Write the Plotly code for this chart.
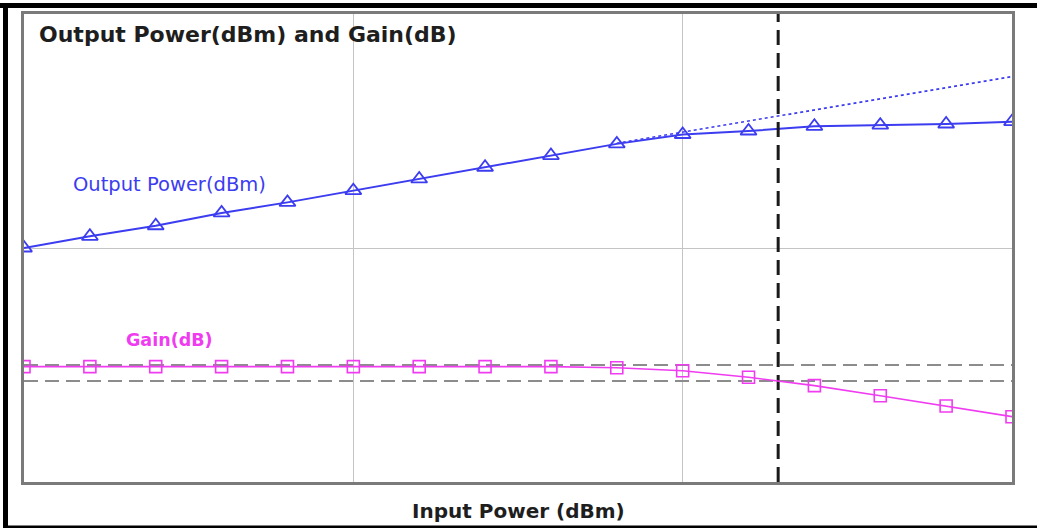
import plotly.graph_objects as go

# ---------------- data ----------------
input_power = [-10, -9, -8, -7, -6, -5, -4, -3, -2, -1, 0, 1, 2, 3, 4, 5]
output_power = [10.0, 11.0, 11.9, 13.0, 13.9, 14.9, 15.9, 16.9, 17.9, 18.9,
                19.7, 20.0, 20.4, 20.5, 20.6, 20.8]
gain = [19.9, 19.9, 19.9, 19.9, 19.9, 19.9, 19.9, 19.9, 19.9, 19.83,
        19.64, 19.23, 18.71, 18.08, 17.44, 16.77]
linear_input = [-1, 0, 1, 2, 3, 4, 5]
linear_output = [18.95, 19.9, 20.85, 21.8, 22.75, 23.7, 24.65]
gain_ref = 20.0
gain_1db = 19.0
p1db_input = 1.45

title_text = "Output Power(dBm) and Gain(dB)"
xaxis_text = "Input Power (dBm)"
out_label = "Output Power(dBm)"
gain_label = "Gain(dB)"

# ---------------- layout geometry ----------------
W, H = 1037, 529
PL, PR, PT, PB = 24, 1012, 14, 482


def px(x):
    return (x - PL) / (PR - PL)


def py(y):
    return (PB - y) / (PB - PT)


BLUE = "#3c3cf0"
MAG = "#f03cf0"
GRAY = "#8c8c8c"

fig = go.Figure()

# reference dashed lines on the gain axis
for g in (gain_ref, gain_1db):
    fig.add_trace(go.Scatter(
        x=[input_power[0], input_power[-1]], y=[g, g], yaxis="y2",
        mode="lines", line=dict(color=GRAY, width=2.2, dash="14px,7px"),
        hoverinfo="skip", showlegend=False))

# linear extrapolation (dotted)
fig.add_trace(go.Scatter(
    x=linear_input, y=linear_output, mode="lines",
    line=dict(color=BLUE, width=1.6, dash="dot"), showlegend=False))

# output power
fig.add_trace(go.Scatter(
    x=input_power, y=output_power, mode="lines+markers",
    line=dict(color=BLUE, width=2),
    marker=dict(symbol="triangle-up-open", size=14, color=BLUE,
                line=dict(width=1.8, color=BLUE)),
    showlegend=False))

# gain
fig.add_trace(go.Scatter(
    x=input_power, y=gain, yaxis="y2", mode="lines+markers",
    line=dict(color=MAG, width=1.6),
    marker=dict(symbol="square-open", size=12, color=MAG,
                line=dict(width=1.6, color=MAG)),
    showlegend=False))

# P1dB vertical dashed line
fig.add_trace(go.Scatter(
    x=[p1db_input, p1db_input], y=[-10, 30], mode="lines",
    line=dict(color="#1a1a1a", width=3, dash="15px,8px"),
    hoverinfo="skip", showlegend=False))

# outer black frame
shapes = [
    dict(type="rect", xref="paper", yref="paper",
         x0=px(0), x1=px(W), y0=py(8), y1=py(3),
         fillcolor="black", line=dict(width=0), layer="above"),
    dict(type="rect", xref="paper", yref="paper",
         x0=px(3), x1=px(8), y0=py(528), y1=py(3),
         fillcolor="black", line=dict(width=0), layer="above"),
    dict(type="rect", xref="paper", yref="paper",
         x0=px(3), x1=px(W), y0=py(528), y1=py(525.5),
         fillcolor="black", line=dict(width=0), layer="above"),
]

annotations = [
    dict(text=title_text, xref="paper", yref="paper", x=px(37), y=py(35),
         xanchor="left", yanchor="middle", showarrow=False,
         font=dict(family="DejaVu Sans", size=22, color="#1e1e1e", weight="bold")),
    dict(text=xaxis_text, xref="paper", yref="paper", x=px(518), y=py(511),
         xanchor="center", yanchor="middle", showarrow=False,
         font=dict(family="DejaVu Sans", size=20, color="#1e1e1e", weight="bold")),
    dict(text=out_label, xref="paper", yref="paper", x=px(71), y=py(184),
         xanchor="left", yanchor="middle", showarrow=False,
         font=dict(family="DejaVu Sans", size=19.5, color=BLUE)),
    dict(text=gain_label, xref="paper", yref="paper", x=px(124), y=py(340),
         xanchor="left", yanchor="middle", showarrow=False,
         font=dict(family="DejaVu Sans", size=17.5, color=MAG, weight="bold")),
]

fig.update_layout(
    width=W, height=H,
    margin=dict(l=PL, r=W - PR, t=PT, b=H - PB, pad=0),
    paper_bgcolor="white", plot_bgcolor="white",
    showlegend=False,
    shapes=shapes, annotations=annotations,
    xaxis=dict(range=[-10, 5], tick0=-10, dtick=5, showticklabels=False,
               ticks="", showgrid=True, gridcolor="#c4c4c4", gridwidth=1,
               zeroline=False, showline=True, linecolor="#7a7a7a",
               linewidth=2.5, mirror=True),
    yaxis=dict(range=[-10, 30], tick0=-10, dtick=20, showticklabels=False,
               ticks="", showgrid=True, gridcolor="#c4c4c4", gridwidth=1,
               zeroline=False, showline=True, linecolor="#7a7a7a",
               linewidth=2.5, mirror=True),
    yaxis2=dict(range=[12.6875, 41.9375], overlaying="y", visible=False),
)

fig.write_html(
    "out.html",
    config=dict(displayModeBar=False),
    post_script="document.body.style.margin='0';document.body.style.overflow='hidden';",
)
